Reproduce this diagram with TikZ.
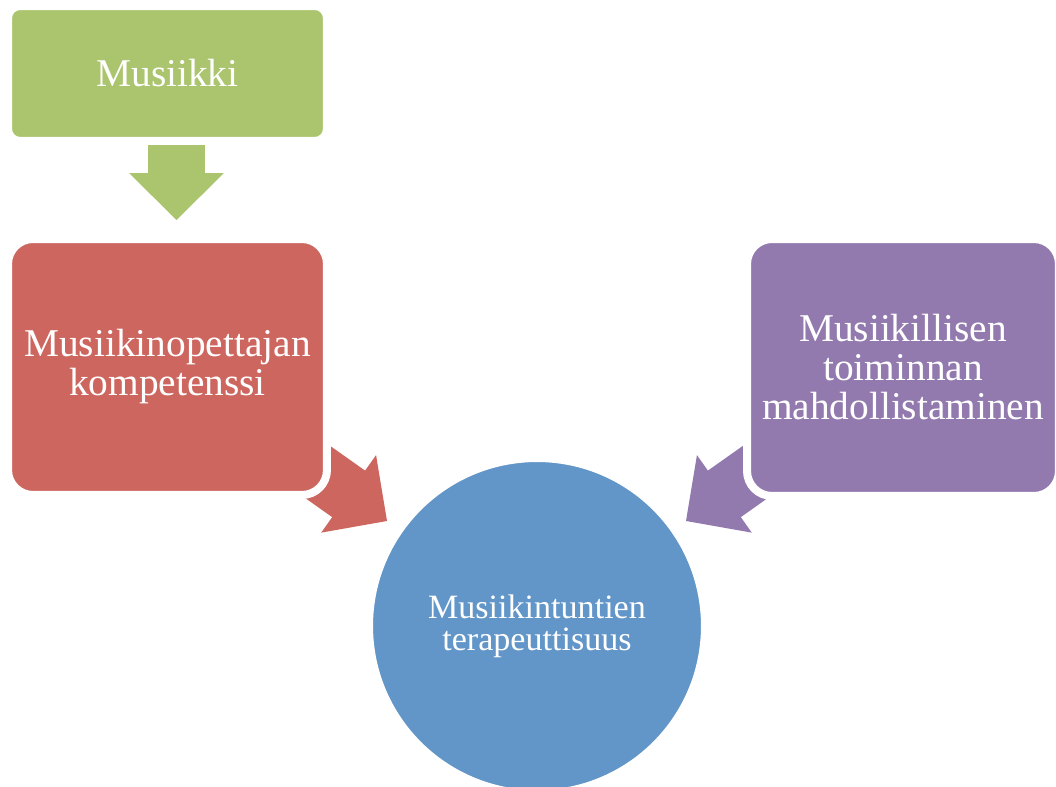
\documentclass[tikz,border=0pt]{standalone}
\usepackage{fontspec}
\setmainfont{Liberation Serif}
\usetikzlibrary{calc}
\definecolor{musgreen}{RGB}{171,196,110}
\definecolor{musred}{RGB}{205,102,95}
\definecolor{muspurple}{RGB}{146,122,175}
\definecolor{musblue}{RGB}{98,150,200}
\tikzset{box/.style={rectangle, draw=white, line width=0.16cm, text=white, align=center, inner sep=0pt},
  bigtext/.style={font=\fontsize{22.4}{22.2}\selectfont},
  smalltext/.style={font=\fontsize{19.4}{18.2}\selectfont}}
\newcommand{\blockarrow}[3]{%
  \coordinate (#2h) at ($(#3)!0.94cm!(#2)$);
  \fill[#1] ($(#2)!0.57cm!90:(#3)$) -- ($(#2h)!0.57cm!90:(#3)$) -- ($(#2h)!0.95cm!90:(#3)$) -- (#3)
    -- ($(#2h)!0.95cm!-90:(#3)$) -- ($(#2h)!0.57cm!-90:(#3)$) -- ($(#2)!0.57cm!-90:(#3)$) -- cycle;}
\begin{document}
\begin{tikzpicture}[x=0.02cm, y=-0.02cm]
  \useasboundingbox (0,0) rectangle (1056,787);
      \coordinate (g0) at (176.5,141);
      \coordinate (g1) at (176.5,220);
      \coordinate (r0) at (305,463);
      \coordinate (r1) at (387,521);
      \coordinate (p0) at (768,463);
      \coordinate (p1) at (686,521);
  \foreach \c/\a/\b in {musgreen/g0/g1, musred/r0/r1, muspurple/p0/p1}
    \blockarrow{\c}{\a}{\b};
  \node[box, bigtext, fill=musgreen, minimum width=6.38cm, minimum height=2.70cm, rounded corners=0.24cm] (musiikki) at (167.5,73.5) {Musiikki};
  \node[box, bigtext, fill=musred, minimum width=6.38cm, minimum height=5.12cm, rounded corners=0.5cm] (kompetenssi) at (167.5,367) {Musiikinopettajan\\kompetenssi};
  \node[box, bigtext, fill=muspurple, minimum width=6.24cm, minimum height=5.14cm, rounded corners=0.5cm] (toiminta) at (903,367.5) {Musiikillisen\\toiminnan\\mahdollistaminen};
  \node[box, smalltext, circle, fill=musblue, minimum size=6.72cm] (terapia) at (537,626) {Musiikintuntien\\terapeuttisuus};
\end{tikzpicture}
\end{document}
